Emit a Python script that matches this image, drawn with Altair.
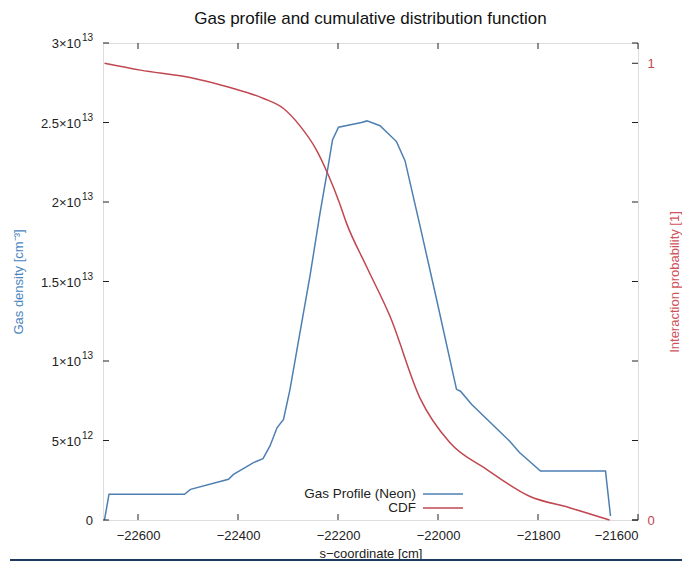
import altair as alt
import pandas as pd

# Gas density profile (Neon) along the s-coordinate
s_gas = [-22667, -22658, -22507, -22495, -22419, -22409, -22369, -22350, -22336,
         -22322, -22309, -22296, -22276, -22256, -22236, -22221, -22211, -22199,
         -22153, -22142, -22116, -22083, -22066, -22036, -22003, -21963, -21955,
         -21933, -21857, -21837, -21795, -21665, -21655]
density = [0.0, 1.62e12, 1.62e12, 1.93e12, 2.56e12, 2.87e12, 3.61e12, 3.86e12, 4.66e12,
           5.80e12, 6.33e12, 8.22e12, 1.18e13, 1.535e13, 1.93e13, 2.20e13, 2.39e13, 2.47e13,
           2.50e13, 2.51e13, 2.48e13, 2.38e13, 2.26e13, 1.85e13, 1.39e13, 8.22e12, 8.10e12,
           7.28e12, 4.97e12, 4.24e12, 3.08e12, 3.08e12, 2.5e11]

# Cumulative interaction probability
s_cdf = [-22667, -22595, -22496, -22416, -22349, -22309, -22276, -22243, -22220,
         -22198, -22183, -22143, -22096, -22036, -21976, -21903, -21817, -21737, -21657]
cdf = [1.0, 0.985, 0.969, 0.947, 0.923, 0.901, 0.863, 0.81, 0.757,
       0.697, 0.65, 0.555, 0.446, 0.267, 0.169, 0.111, 0.052, 0.027, 0.0]

series_names = ["Gas Profile (Neon)", "CDF"]
series_colors = ["#4e7fb2", "#c0474f"]

x_ticks = [-22600, -22400, -22200, -22000, -21800, -21600]
y_ticks = [0, 5e12, 1e13, 1.5e13, 2e13, 2.5e13, 3e13]
y_tick_mantissa = ["0", "5×10", "1×10", "1.5×10", "2×10", "2.5×10", "3×10"]
y_tick_exponent = ["", "12", "13", "13", "13", "13", "13"]
cdf_ticks = [0, 1]

W, H = 535, 477
FONT = "Liberation Sans"
FS = 13
TICK = 6

gas_df = pd.DataFrame({"s": s_gas, "value": density, "series": series_names[0]})
cdf_df = pd.DataFrame({"s": s_cdf, "value": cdf, "series": series_names[1]})
xt_df = pd.DataFrame({"s": x_ticks})
yt_df = pd.DataFrame({"value": y_ticks, "mant": y_tick_mantissa, "exp": y_tick_exponent})
ct_df = pd.DataFrame({"value": cdf_ticks})

x_scale = alt.Scale(domain=[-22670, -21600], nice=False, zero=False)
y_scale = alt.Scale(domain=[0, 3e13], nice=False)
c_scale = alt.Scale(domain=[0, 1.0444], nice=False)

x_axis = alt.Axis(values=x_ticks, format="d", ticks=False, domain=False, grid=False,
                  labelPadding=9, labelFontSize=FS, labelFont=FONT, labelColor="#222",
                  title="s−coordinate [cm]", titleFont=FONT, titleFontSize=FS,
                  titleFontWeight="normal", titleColor="#222", titleY=33,
                  titleBaseline="middle")

# density axis carries only the title; tick labels are drawn as text with raised exponents
y_axis = alt.Axis(values=y_ticks, labels=False, ticks=False, domain=False, grid=False,
                  title="Gas density [cm⁻³]", titleFont=FONT, titleFontSize=FS,
                  titleFontWeight="normal", titleColor="#4a86c0", titleAngle=270,
                  titleX=-85, titleY=H / 2, titleAlign="center", titleBaseline="middle")

c_axis = alt.Axis(orient="right", values=cdf_ticks, format="d", ticks=False, domain=False,
                  grid=False, labelPadding=9, labelFontSize=FS, labelFont=FONT,
                  labelColor="#c0474f",
                  title="Interaction probability [1]", titleFont=FONT, titleFontSize=FS,
                  titleFontWeight="normal", titleColor="#d0535b", titleAngle=270,
                  titleX=36, titleY=H / 2, titleAlign="center", titleBaseline="middle")

color = alt.Color("series:N", scale=alt.Scale(domain=series_names, range=series_colors),
                  legend=None)

x_enc = alt.X("s:Q", scale=x_scale, axis=x_axis)
y_enc = alt.Y("value:Q", scale=y_scale, axis=y_axis)

gas_line = alt.Chart(gas_df).mark_line(strokeWidth=1.5).encode(
    x=x_enc, y=y_enc, color=color)

x_ticks_bottom = alt.Chart(xt_df).mark_rule(color="#222").encode(
    x=x_enc, y=alt.value(H), y2=alt.value(H - TICK))
x_ticks_top = alt.Chart(xt_df).mark_rule(color="#222").encode(
    x=x_enc, y=alt.value(0), y2=alt.value(TICK))
y_ticks_left = alt.Chart(yt_df).mark_rule(color="#222").encode(
    y=y_enc, x=alt.value(0), x2=alt.value(TICK))
y_ticks_right = alt.Chart(yt_df).mark_rule(color="#222").encode(
    y=y_enc, x=alt.value(W), x2=alt.value(W - TICK))

# density tick labels: mantissa plus a smaller raised exponent
lbl_exp = alt.Chart(yt_df).transform_filter("datum.exp != ''").mark_text(
    align="right", baseline="middle", font=FONT, fontSize=10, color="#222", dy=-5).encode(
    y=y_enc, x=alt.value(-10), text="exp:N")
lbl_mant = alt.Chart(yt_df).transform_filter("datum.exp != ''").mark_text(
    align="right", baseline="middle", font=FONT, fontSize=FS, color="#222", dy=1).encode(
    y=y_enc, x=alt.value(-22), text="mant:N")
lbl_plain = alt.Chart(yt_df).transform_filter("datum.exp == ''").mark_text(
    align="right", baseline="middle", font=FONT, fontSize=FS, color="#222", dy=1).encode(
    y=y_enc, x=alt.value(-10), text="mant:N")

# key: label on the left, line sample on the right
key_layers = []
for i, (name, col) in enumerate(zip(series_names, series_colors)):
    row_y = 451 + 14 * i
    key_df = pd.DataFrame({"label": [name]})
    key_layers.append(alt.Chart(key_df).mark_text(
        align="right", baseline="middle", font=FONT, fontSize=13.5, color="#222").encode(
        text="label:N", x=alt.value(313), y=alt.value(row_y)))
    key_layers.append(alt.Chart(key_df).mark_rule(color=col, strokeWidth=1.5).encode(
        x=alt.value(320), x2=alt.value(360), y=alt.value(row_y)))

# dark rule running along the bottom edge of the figure
bottom_rule = alt.Chart(xt_df.head(1)).mark_rule(color="#1d3a5f", strokeWidth=2).encode(
    x=alt.value(-93), x2=alt.value(W + 44), y=alt.value(H + 40))

left = alt.layer(gas_line, x_ticks_bottom, x_ticks_top, y_ticks_left, y_ticks_right,
                 lbl_exp, lbl_mant, lbl_plain, bottom_rule, *key_layers)

cdf_line = alt.Chart(cdf_df).mark_line(strokeWidth=1.5, interpolate="monotone").encode(
    x=x_enc, y=alt.Y("value:Q", scale=c_scale, axis=c_axis), color=color)
c_tick = alt.Chart(ct_df).mark_rule(color="#222").encode(
    y=alt.Y("value:Q", scale=c_scale, axis=c_axis), x=alt.value(W), x2=alt.value(W - TICK))
right = alt.layer(cdf_line, c_tick)

chart = alt.layer(left, right).resolve_scale(y="independent").properties(
    width=W, height=H,
    title=alt.TitleParams("Gas profile and cumulative distribution function", font=FONT,
                          fontSize=17, fontWeight="normal", color="#111", anchor="middle",
                          frame="group", offset=5),
    autosize=alt.AutoSizeParams(type="none"),
    padding={"left": 103, "top": 43, "right": 44, "bottom": 42},
).configure_view(stroke="#222", strokeWidth=1).configure(background="white")

chart.save("out.html", embed_options={"renderer": "svg", "actions": False})
